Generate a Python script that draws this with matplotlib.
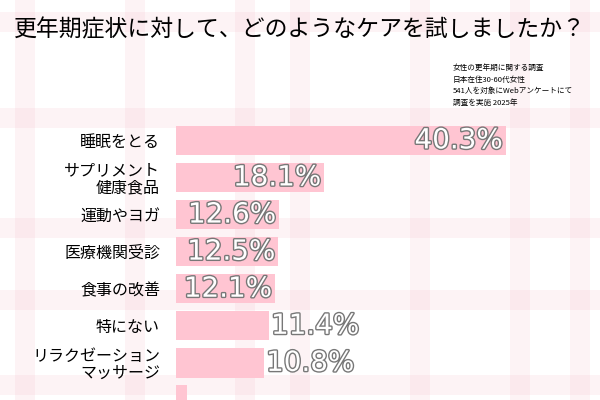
import matplotlib.pyplot as plt
import matplotlib.patheffects as pe

plt.rcParams['font.family'] = 'Noto Sans CJK JP'

categories = ['睡眠をとる', 'サプリメント\n健康食品', '運動やヨガ', '医療機関受診',
              '食事の改善', '特にない', 'リラクゼーション\nマッサージ', '']
values = [40.3, 18.1, 12.6, 12.5, 12.1, 11.4, 10.8, 1.3]

fig = plt.figure(figsize=(6, 4), dpi=100)
fig.patch.set_facecolor('white')

# plaid background
bg = fig.add_axes([0, 0, 1, 1], zorder=0)
bg.set_xlim(0, 600)
bg.set_ylim(400, 0)
bg.axis('off')
for x in [25, 135, 245, 300, 420, 520, 580]:
    bg.axvspan(x - 10, x + 10, color='#f4a9b8', alpha=0.13, lw=0)
for y in [22, 118, 228, 300, 385]:
    bg.axhspan(y - 10, y + 10, color='#f4a9b8', alpha=0.13, lw=0)

fig.text(0.5, 0.925, '更年期症状に対して、どのようなケアを試しましたか？',
         ha='center', va='center', fontsize=16.5)
fig.text(0.755, 0.84, '女性の更年期に関する調査\n日本在住30-60代女性\n541人を対象にWebアンケートにて\n調査を実施 2025年',
         ha='left', va='top', fontsize=5.5, linespacing=1.6)

ax = fig.add_axes([176 / 600, 0, 424 / 600, 280 / 400], zorder=1)
ax.patch.set_alpha(0)
ypos = list(range(len(values)))
ax.barh(ypos, values, height=0.79, color='#ffc5d2')
ax.set_xlim(0, 424 / 8.19)
ax.set_ylim(6.78, -0.55)
ax.set_yticks(ypos, categories, fontsize=11.5, linespacing=1.0)
ax.tick_params(left=False, bottom=False, labelbottom=False, pad=8)
for s in ax.spines.values():
    s.set_visible(False)

outline = [pe.withStroke(linewidth=2.0, foreground='#777777')]
for y, v in zip(ypos[:-1], values[:-1]):
    if v > 12:
        ax.text(v - 0.4, y, f'{v}%', ha='right', va='center', fontsize=20,
                color='white', path_effects=outline, fontfamily='DejaVu Sans')
    else:
        ax.text(v + 0.2, y, f'{v}%', ha='left', va='center', fontsize=20,
                color='white', path_effects=outline, fontfamily='DejaVu Sans')

plt.savefig('out.png', dpi=100)
